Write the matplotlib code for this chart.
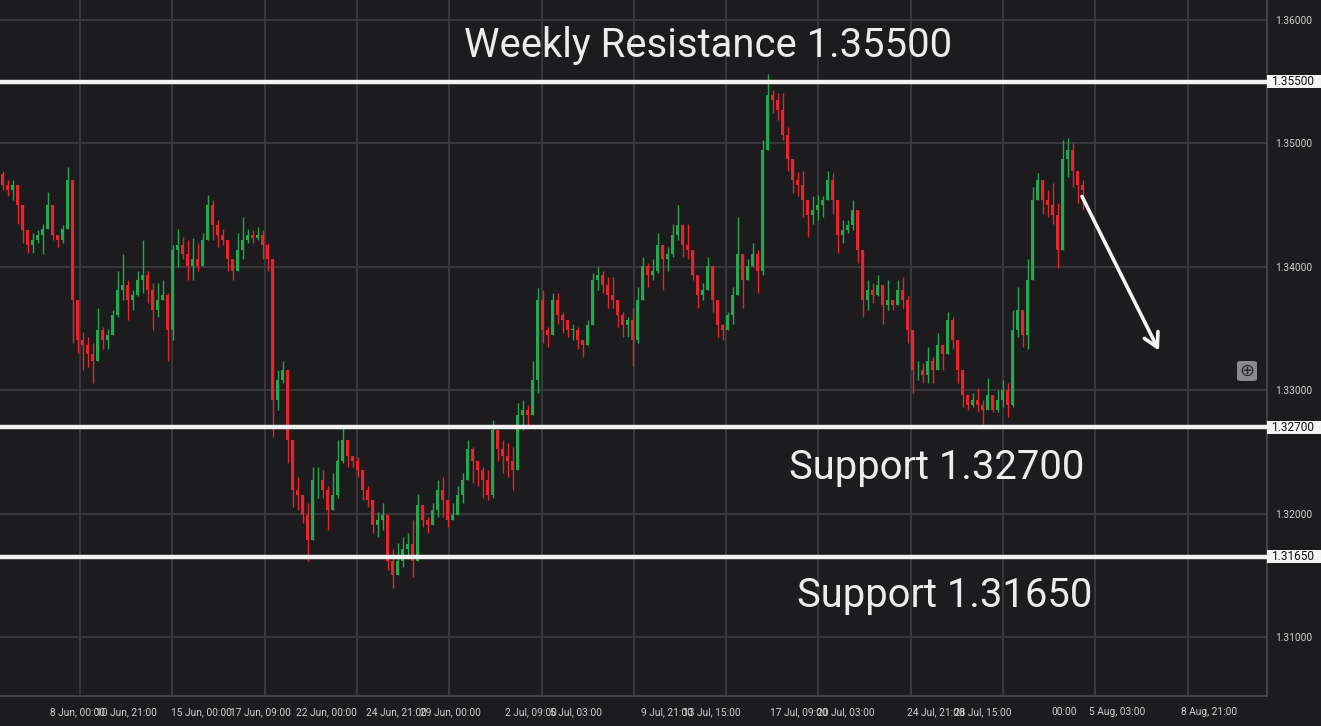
import matplotlib
matplotlib.use('Agg')
import matplotlib.pyplot as plt
import matplotlib.transforms as mtransforms
from matplotlib.patches import Rectangle, FancyBboxPatch

# ---------------- data (price values) ----------------
first_open = 1.3475
closes = [
    1.3466, 1.3462, 1.3466, 1.3450, 1.3430, 1.3418, 1.3422, 1.3426, 1.3431, 1.3450,
    1.3426, 1.3422, 1.3431, 1.3470, 1.3373, 1.3341, 1.3337, 1.3329, 1.3324, 1.3349,
    1.3341, 1.3345, 1.3361, 1.3381, 1.3385, 1.3373, 1.3377, 1.3389, 1.3393, 1.3381,
    1.3365, 1.3373, 1.3377, 1.3349, 1.3414, 1.3418, 1.3410, 1.3401, 1.3406, 1.3401,
    1.3422, 1.3450, 1.3434, 1.3426, 1.3422, 1.3406, 1.3397, 1.3414, 1.3422, 1.3426,
    1.3423, 1.3426, 1.3418, 1.3406, 1.3292, 1.3308, 1.3316, 1.3260, 1.3219, 1.3215,
    1.3199, 1.3179, 1.3227, 1.3227, 1.3219, 1.3203, 1.3215, 1.3243, 1.3260, 1.3247,
    1.3243, 1.3235, 1.3219, 1.3211, 1.3191, 1.3195, 1.3199, 1.3162, 1.3150, 1.3162,
    1.3171, 1.3175, 1.3162, 1.3207, 1.3195, 1.3191, 1.3203, 1.3219, 1.3211, 1.3195,
    1.3199, 1.3215, 1.3227, 1.3252, 1.3243, 1.3235, 1.3227, 1.3215, 1.3268, 1.3252,
    1.3247, 1.3243, 1.3235, 1.3280, 1.3284, 1.3280, 1.3308, 1.3373, 1.3349, 1.3345,
    1.3373, 1.3361, 1.3357, 1.3349, 1.3349, 1.3341, 1.3337, 1.3353, 1.3389, 1.3393,
    1.3385, 1.3377, 1.3373, 1.3361, 1.3353, 1.3357, 1.3341, 1.3373, 1.3401, 1.3393,
    1.3397, 1.3418, 1.3406, 1.3410, 1.3426, 1.3434, 1.3418, 1.3414, 1.3393, 1.3377,
    1.3381, 1.3401, 1.3373, 1.3353, 1.3349, 1.3361, 1.3377, 1.3410, 1.3389, 1.3401,
    1.3410, 1.3397, 1.3495, 1.3539, 1.3535, 1.3527, 1.3507, 1.3487, 1.3470, 1.3466,
    1.3454, 1.3442, 1.3446, 1.3450, 1.3454, 1.3470, 1.3454, 1.3426, 1.3430, 1.3434,
    1.3446, 1.3414, 1.3373, 1.3381, 1.3377, 1.3385, 1.3369, 1.3373, 1.3369, 1.3381,
    1.3373, 1.3349, 1.3316, 1.3316, 1.3312, 1.3324, 1.3316, 1.3337, 1.3329, 1.3357,
    1.3341, 1.3316, 1.3296, 1.3288, 1.3292, 1.3288, 1.3284, 1.3296, 1.3284, 1.3292,
    1.3300, 1.3288, 1.3349, 1.3365, 1.3345, 1.3389, 1.3454, 1.3470, 1.3454, 1.3450,
    1.3442, 1.3414, 1.3487, 1.3495, 1.3478, 1.3466, 1.3462,
]
highs = [
    1.3478, 1.3470, 1.3470, 1.3460, 1.3438, 1.3430, 1.3427, 1.3430, 1.3435, 1.3461,
    1.3440, 1.3426, 1.3434, 1.3481, 1.3468, 1.3357, 1.3347, 1.3343, 1.3338, 1.3367,
    1.3351, 1.3350, 1.3365, 1.3397, 1.3410, 1.3389, 1.3381, 1.3397, 1.3422, 1.3397,
    1.3387, 1.3387, 1.3389, 1.3379, 1.3418, 1.3431, 1.3424, 1.3422, 1.3423, 1.3419,
    1.3427, 1.3458, 1.3454, 1.3438, 1.3431, 1.3416, 1.3406, 1.3427, 1.3440, 1.3431,
    1.3430, 1.3432, 1.3430, 1.3419, 1.3403, 1.3316, 1.3324, 1.3316, 1.3252, 1.3230,
    1.3211, 1.3209, 1.3238, 1.3238, 1.3235, 1.3222, 1.3233, 1.3260, 1.3272, 1.3252,
    1.3247, 1.3246, 1.3235, 1.3222, 1.3200, 1.3201, 1.3209, 1.3197, 1.3171, 1.3176,
    1.3181, 1.3184, 1.3195, 1.3216, 1.3205, 1.3197, 1.3209, 1.3227, 1.3230, 1.3209,
    1.3209, 1.3222, 1.3233, 1.3260, 1.3254, 1.3243, 1.3238, 1.3235, 1.3276, 1.3265,
    1.3260, 1.3257, 1.3254, 1.3290, 1.3292, 1.3288, 1.3324, 1.3383, 1.3381, 1.3351,
    1.3379, 1.3379, 1.3363, 1.3357, 1.3354, 1.3351, 1.3341, 1.3357, 1.3395, 1.3400,
    1.3397, 1.3392, 1.3392, 1.3373, 1.3363, 1.3359, 1.3367, 1.3384, 1.3408, 1.3403,
    1.3406, 1.3427, 1.3416, 1.3416, 1.3435, 1.3450, 1.3435, 1.3435, 1.3400, 1.3389,
    1.3387, 1.3408, 1.3400, 1.3363, 1.3354, 1.3363, 1.3384, 1.3440, 1.3406, 1.3406,
    1.3419, 1.3414, 1.3503, 1.3556, 1.3543, 1.3541, 1.3541, 1.3513, 1.3478, 1.3477,
    1.3478, 1.3448, 1.3457, 1.3458, 1.3457, 1.3478, 1.3476, 1.3438, 1.3438, 1.3438,
    1.3454, 1.3432, 1.3406, 1.3389, 1.3387, 1.3393, 1.3381, 1.3389, 1.3373, 1.3389,
    1.3392, 1.3376, 1.3338, 1.3324, 1.3322, 1.3335, 1.3327, 1.3346, 1.3335, 1.3363,
    1.3359, 1.3335, 1.3311, 1.3294, 1.3298, 1.3302, 1.3292, 1.3310, 1.3292, 1.3300,
    1.3308, 1.3306, 1.3365, 1.3384, 1.3365, 1.3406, 1.3465, 1.3476, 1.3470, 1.3462,
    1.3468, 1.3452, 1.3503, 1.3504, 1.3500, 1.3476, 1.3470,
]
lows = [
    1.3462, 1.3457, 1.3454, 1.3435, 1.3419, 1.3411, 1.3411, 1.3419, 1.3410, 1.3432,
    1.3422, 1.3416, 1.3419, 1.3440, 1.3338, 1.3330, 1.3316, 1.3319, 1.3306, 1.3333,
    1.3333, 1.3333, 1.3346, 1.3359, 1.3373, 1.3357, 1.3365, 1.3376, 1.3379, 1.3371,
    1.3349, 1.3359, 1.3373, 1.3324, 1.3341, 1.3400, 1.3406, 1.3389, 1.3389, 1.3397,
    1.3406, 1.3432, 1.3422, 1.3416, 1.3418, 1.3397, 1.3389, 1.3403, 1.3406, 1.3419,
    1.3419, 1.3422, 1.3406, 1.3397, 1.3262, 1.3284, 1.3306, 1.3241, 1.3205, 1.3203,
    1.3192, 1.3162, 1.3195, 1.3213, 1.3213, 1.3187, 1.3203, 1.3213, 1.3241, 1.3238,
    1.3238, 1.3230, 1.3211, 1.3205, 1.3184, 1.3181, 1.3187, 1.3154, 1.3140, 1.3157,
    1.3157, 1.3165, 1.3149, 1.3173, 1.3189, 1.3184, 1.3192, 1.3197, 1.3197, 1.3189,
    1.3195, 1.3201, 1.3209, 1.3227, 1.3225, 1.3222, 1.3213, 1.3211, 1.3213, 1.3243,
    1.3233, 1.3230, 1.3219, 1.3241, 1.3268, 1.3270, 1.3284, 1.3298, 1.3338, 1.3335,
    1.3351, 1.3354, 1.3346, 1.3343, 1.3341, 1.3333, 1.3327, 1.3338, 1.3357, 1.3381,
    1.3379, 1.3367, 1.3367, 1.3351, 1.3343, 1.3343, 1.3320, 1.3338, 1.3384, 1.3384,
    1.3389, 1.3395, 1.3381, 1.3397, 1.3408, 1.3422, 1.3408, 1.3406, 1.3389, 1.3367,
    1.3373, 1.3381, 1.3363, 1.3343, 1.3341, 1.3351, 1.3354, 1.3379, 1.3367, 1.3392,
    1.3400, 1.3379, 1.3393, 1.3525, 1.3525, 1.3519, 1.3503, 1.3478, 1.3460, 1.3457,
    1.3440, 1.3424, 1.3435, 1.3438, 1.3440, 1.3457, 1.3443, 1.3411, 1.3419, 1.3427,
    1.3430, 1.3403, 1.3359, 1.3365, 1.3371, 1.3376, 1.3354, 1.3365, 1.3365, 1.3371,
    1.3367, 1.3338, 1.3298, 1.3308, 1.3306, 1.3306, 1.3306, 1.3322, 1.3316, 1.3346,
    1.3333, 1.3306, 1.3286, 1.3284, 1.3286, 1.3282, 1.3273, 1.3284, 1.3282, 1.3282,
    1.3286, 1.3278, 1.3286, 1.3343, 1.3335, 1.3333, 1.3422, 1.3454, 1.3443, 1.3440,
    1.3435, 1.3399, 1.3414, 1.3473, 1.3465, 1.3452, 1.3446,
]

price_ticks = [1.31, 1.32, 1.33, 1.34, 1.35, 1.36]
levels = [1.35500, 1.32700, 1.31650]
level_labels = ["1.35500", "1.32700", "1.31650"]

time_labels = ["8 Jun, 00:00", "10 Jun, 21:00", "15 Jun, 00:00", "17 Jun, 09:00",
               "22 Jun, 00:00", "24 Jun, 21:00", "29 Jun, 00:00", "2 Jul, 09:00",
               "5 Jul, 03:00", "9 Jul, 21:00", "13 Jul, 15:00", "17 Jul, 09:00",
               "20 Jul, 03:00", "24 Jul, 21:00", "28 Jul, 15:00", "00:00",
               "5 Aug, 03:00", "8 Aug, 21:00"]
time_label_pos = [15.1, 24.7, 39.7, 51.5, 64.7, 78.7, 89.5, 105.7, 114.7,
                  132.9, 141.9, 159.3, 168.7, 186.7, 196.1, 212.3, 222.9, 241.3]

arrow_start = (215.9, 1.3457)
arrow_end = (231.3, 1.3332)

# ---------------- style ----------------
BG = '#1c1c1e'
GRID = '#3b3b3e'
UP = '#26a64f'
DOWN = '#e8242a'
WHITE = '#f2f2f2'
TICK = '#cfcfcf'

W, H = 1321, 726
fig = plt.figure(figsize=(W / 100, H / 100), dpi=100, facecolor=BG)
ax = fig.add_axes([0, 30 / H, 1267 / W, 696 / H], facecolor=BG)

ax.set_xlim(-0.5, 252.9)
ax.set_ylim(1.30522, 1.36162)

# grid
grid_x = [15.5 + 18.46 * k for k in range(13)]
for gx in grid_x:
    ax.axvline(gx, color=GRID, lw=1.3, zorder=0)
for py in price_ticks:
    ax.axhline(py, color=GRID, lw=1.3, zorder=0)

# candles
opens = [first_open] + closes[:-1]
for i, (o, h, l, c) in enumerate(zip(opens, highs, lows, closes)):
    col = UP if c >= o else DOWN
    hi = max(h, o, c)
    lo = min(l, o, c)
    ax.vlines(i, lo, hi, color=col, lw=1.0, zorder=2)
    bottom = min(o, c)
    height = max(abs(c - o), 0.00006)
    ax.bar(i, height, bottom=bottom, width=0.55, color=col, linewidth=0, zorder=3)

# horizontal level lines
for lv in levels:
    ax.axhline(lv, color=WHITE, lw=3.2, zorder=4)

# axes frame
for s in ['top', 'left']:
    ax.spines[s].set_visible(False)
ax.spines['right'].set_color('#4a4a4d')
ax.spines['bottom'].set_color('#4a4a4d')
ax.spines['right'].set_linewidth(1.2)
ax.spines['bottom'].set_linewidth(1.2)

# right price axis
ax.yaxis.tick_right()
ax.set_yticks(price_ticks)
ax.set_yticklabels([f"{p:.5f}" for p in price_ticks])
ax.tick_params(axis='y', length=0, pad=6, labelsize=7.3, labelcolor=TICK)

# bottom time axis
ax.set_xticks(time_label_pos)
ax.set_xticklabels(time_labels)
ax.tick_params(axis='x', length=0, pad=8, labelsize=7.3, labelcolor=TICK)
for t in ax.get_xticklabels() + ax.get_yticklabels():
    t.set_fontfamily('Roboto')

# highlighted level labels on price axis
blend = mtransforms.blended_transform_factory(ax.transAxes, ax.transData)
box_w = (W - 1267) / 1267
box_h = 0.00108
for lv, txt in zip(levels, level_labels):
    ax.add_patch(Rectangle((1.0, lv - box_h / 2), box_w, box_h, transform=blend,
                           facecolor='#f4f4f4', edgecolor='none', clip_on=False, zorder=5))
    ax.text(1.0 + 4 / 1267, lv, txt, transform=blend, ha='left', va='center',
            fontsize=8.6, color='#111111', family='Roboto', clip_on=False, zorder=6)

# annotations
ax.text(0.5588, 0.9353, "Weekly Resistance 1.35500", transform=ax.transAxes,
        ha='center', va='center', fontsize=28.8, color='#ececec', family='Roboto', zorder=6)
ax.text(0.7395, 0.329, "Support 1.32700", transform=ax.transAxes,
        ha='center', va='center', fontsize=28.8, color='#ececec', family='Roboto', zorder=6)
ax.text(0.7459, 0.1437, "Support 1.31650", transform=ax.transAxes,
        ha='center', va='center', fontsize=28.8, color='#ececec', family='Roboto', zorder=6)

ax.annotate("", xy=arrow_end, xytext=arrow_start,
            arrowprops=dict(arrowstyle='->,head_length=1.0,head_width=0.55',
                            color=WHITE, lw=2.6, shrinkA=0, shrinkB=0), zorder=6)

# zoom icon
icon_cx, icon_cy = 1247 / 1267, 1 - 371 / 696
iw, ih = 20 / 1267, 20 / 696
ax.add_patch(FancyBboxPatch((icon_cx - iw / 2, icon_cy - ih / 2), iw, ih,
                            boxstyle='round,pad=0,rounding_size=0.003',
                            transform=ax.transAxes, facecolor='#8a8a8c',
                            edgecolor='none', zorder=6))
ax.text(icon_cx, icon_cy, "\u2295", transform=ax.transAxes, ha='center', va='center',
        fontsize=13, color='#2a2a2c', family='DejaVu Sans', zorder=7)

fig.savefig('out.png', dpi=100, facecolor=BG)
